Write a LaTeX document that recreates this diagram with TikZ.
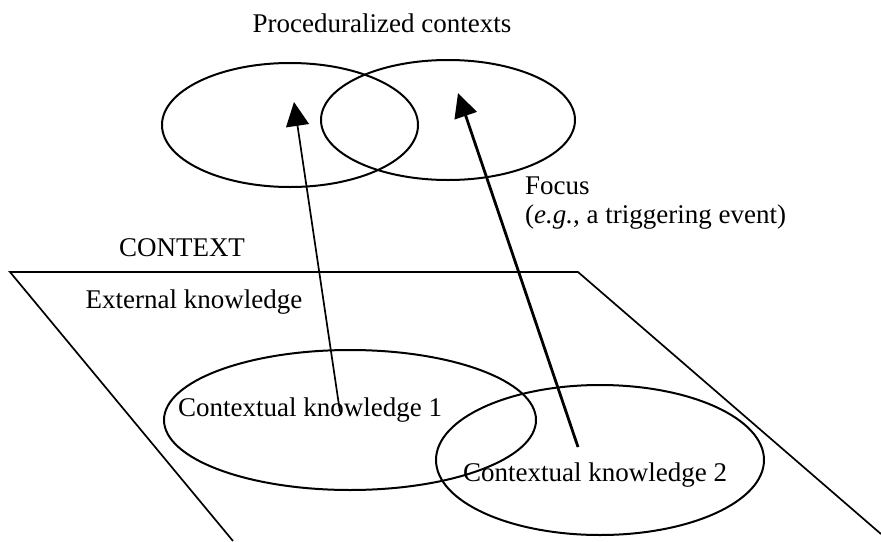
\documentclass[tikz,border=0pt]{standalone}
\usepackage{fontspec}
\setmainfont{Liberation Serif}
\usetikzlibrary{arrows.meta,shapes.geometric}
\tikzset{
  lbl/.style={inner sep=0pt,font=\fontsize{27}{32}\selectfont},
  blob/.style={draw,ellipse,inner sep=0pt,line width=2pt},
  up/.style={-{Triangle[length=24pt,width=23pt]},line width=1.7pt}
}
\begin{document}
\begin{tikzpicture}[x=1pt,y=-1pt]
\useasboundingbox (0,0) rectangle (881,541);
\node[lbl] (title) at (382,23) {Proceduralized contexts};
\node[blob,minimum width=256pt,minimum height=124pt] (pc1) at (290,125) {};
\node[blob,minimum width=254pt,minimum height=120pt] (pc2) at (448,120) {};
\node[lbl,anchor=west] (focus) at (525,186) {Focus};
\node[lbl,anchor=west] (event) at (525,217) {(\textit{e.g.}, a triggering event)};
\node[lbl] (ctx) at (182,248) {CONTEXT};
\coordinate (p1) at (233,541);
\coordinate (p2) at (10,272);
\coordinate (p3) at (578,272);
\coordinate (p4) at (881,534);
\draw[line width=1.7pt] (p1) -- (p2) -- (p3) -- (p4);
\node[lbl] (ext) at (194,302) {External knowledge};
\node[blob,minimum width=372pt,minimum height=140pt] (ck1) at (350,420) {};
\node[blob,minimum width=328pt,minimum height=150pt] (ck2) at (600,460) {};
\node[lbl] (ck1t) at (310,410) {Contextual knowledge 1};
\node[lbl] (ck2t) at (595,475) {Contextual knowledge 2};
\coordinate (tail1) at (340,412);
\coordinate (tip1) at (294,102);
\coordinate (tail2) at (578,447);
\coordinate (tip2) at (458,93);
\draw[up] (tail1) -- (tip1);
\draw[up,line width=2.8pt] (tail2) -- (tip2);
\end{tikzpicture}
\end{document}
